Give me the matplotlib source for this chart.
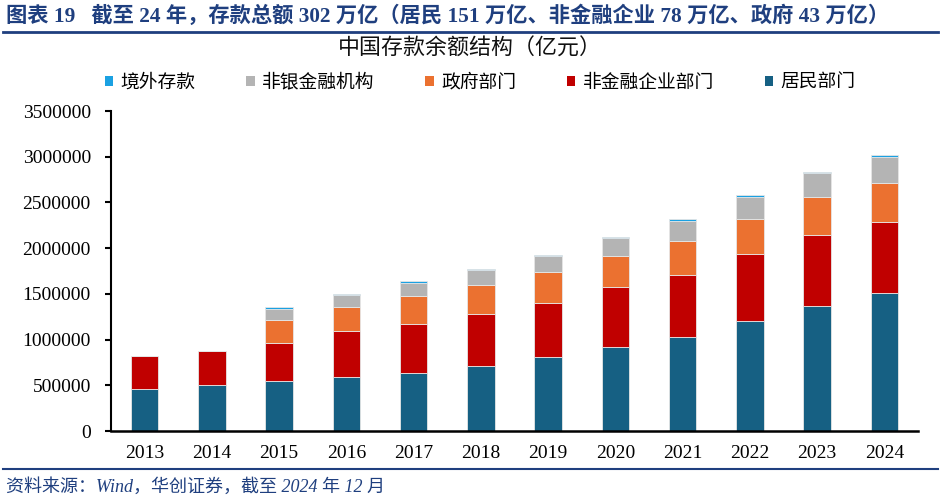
import matplotlib
matplotlib.use("Agg")
import matplotlib.pyplot as plt
import numpy as np
from matplotlib.patches import Patch

years = ["2013", "2014", "2015", "2016", "2017", "2018", "2019", "2020", "2021", "2022", "2023", "2024"]
household = [456000, 500000, 544000, 594000, 638000, 711000, 806000, 922000, 1025000, 1200000, 1364000, 1506000]
nonfin_corp = [361000, 375000, 422000, 500000, 536000, 565000, 598000, 656000, 685000, 739000, 783000, 783000]
government = [0, 0, 245000, 266000, 306000, 321000, 335000, 339000, 365000, 383000, 412000, 427000]
nonbank_fin = [0, 0, 127000, 128000, 142000, 164000, 172000, 190000, 225000, 241000, 259000, 284000]
overseas = [0, 0, 15000, 10000, 15000, 11000, 14000, 15000, 15000, 15000, 15000, 15000]

series_names = ["居民部门", "非金融企业部门", "政府部门", "非银金融机构", "境外存款"]
colors = ["#166083", "#C00000", "#EB7130", "#B4B4B4", "#1BA1E2"]
yticks = [0, 500000, 1000000, 1500000, 2000000, 2500000, 3000000, 3500000]

FAM = ["Liberation Serif", "Noto Sans CJK SC", "DejaVu Sans"]
CJK = ["Noto Sans CJK SC", "DejaVu Sans"]
TITLE_BLUE = "#1F3F7F"

fig = plt.figure(figsize=(9.41, 5.01), dpi=100)
ax = fig.add_axes([111/941, 70/501, (918-111)/941, 320/501])

x = np.arange(len(years))
bottom = np.zeros(len(years))
data = [household, nonfin_corp, government, nonbank_fin, overseas]
for vals, c in zip(data, colors):
    v = np.array(vals, dtype=float)
    ax.bar(x, v, bottom=bottom, width=0.41, color=c, edgecolor="#e6e6e6", linewidth=0.6, zorder=2)
    bottom += v

ax.set_ylim(0, 3500000)
ax.set_xlim(-0.5, len(years) - 0.5)
ax.set_yticks(yticks)
ax.set_yticklabels([str(t) for t in yticks], fontfamily=FAM, fontsize=14)
ax.set_xticks(x)
ax.set_xticklabels(years, fontfamily=FAM, fontsize=14)
ax.tick_params(axis="x", length=0, pad=10)
ax.tick_params(axis="y", length=4.5, width=1.5, direction="out", pad=10)
for s in ["top", "right"]:
    ax.spines[s].set_visible(False)
ax.spines["left"].set_linewidth(1.5)
ax.spines["bottom"].set_linewidth(1.8)

# legend
order = [4, 3, 2, 1, 0]
handles = [Patch(facecolor=colors[i], edgecolor="none") for i in order]
labels = [series_names[i] for i in order]
fig.legend(handles, labels, loc="center", bbox_to_anchor=(480/941, 1 - 82/501), ncol=5,
           frameon=False, prop={"family": CJK, "size": 13.5}, handlelength=0.45, handleheight=0.45,
           handletextpad=0.4, columnspacing=2.7, borderpad=0, borderaxespad=0)

# subtitle
fig.text(470/941, 1 - 49/501, "中国存款余额结构（亿元）", ha="center", va="center",
         fontfamily=CJK, fontsize=15.8, color="#111111")

# header title
fig.text(6/941, 1 - 16/501, "图表 19   截至 24 年，存款总额 302 万亿（居民 151 万亿、非金融企业 78 万亿、政府 43 万亿）",
         ha="left", va="center", fontfamily=FAM, fontsize=15.3, fontweight="bold", color=TITLE_BLUE)
fig.add_artist(plt.Line2D([3/941, 938/941], [1 - 32/501, 1 - 32/501], color=TITLE_BLUE, linewidth=2))
fig.add_artist(plt.Line2D([3/941, 938/941], [1 - 469/501, 1 - 469/501], color=TITLE_BLUE, linewidth=1.5))

fig.text(6/941, 1 - 487/501, "资料来源：Wind，华创证券，截至 2024 年 12 月", ha="left", va="center",
         fontfamily=FAM, fontsize=13, fontstyle="italic", color=TITLE_BLUE)

fig.savefig("out.png", dpi=100)
